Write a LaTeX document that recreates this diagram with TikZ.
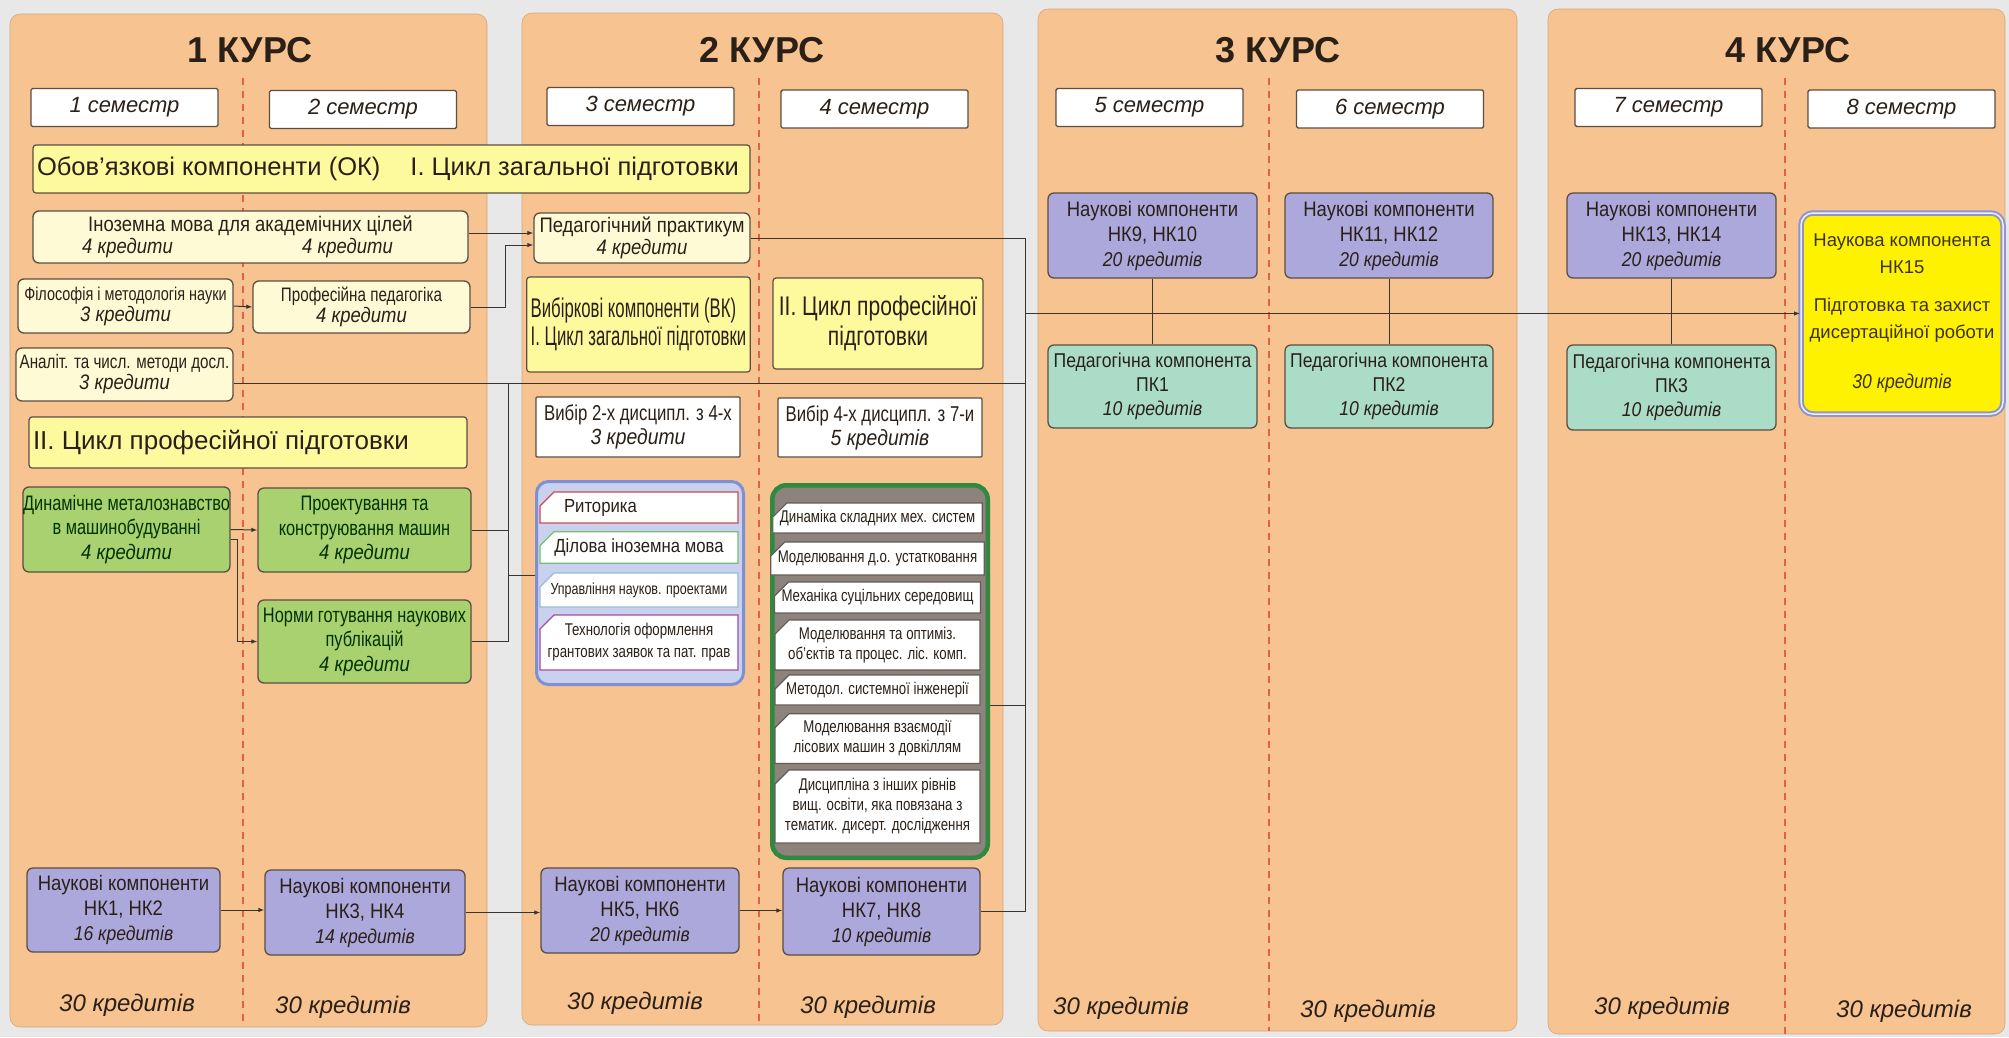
\documentclass[tikz,border=0pt]{standalone}
\usepackage{fontspec}
\setmainfont{Liberation Sans}
\newfontfamily\narrowfont[FakeStretch=0.88]{Liberation Sans}
\newfontfamily\tightfont[FakeStretch=0.78]{Liberation Sans}
\newfontfamily\vtightfont[FakeStretch=0.62]{Liberation Sans}
\usetikzlibrary{arrows.meta,shapes.misc}
\definecolor{bgc}{HTML}{E8E8E8}
\definecolor{panel}{HTML}{F6C391}
\definecolor{panelline}{HTML}{D6A77C}
\definecolor{edge}{HTML}{5C4E42}
\definecolor{ink}{HTML}{2A2018}
\definecolor{semline}{HTML}{E0604A}
\definecolor{banner}{HTML}{FDFA9E}
\definecolor{cream}{HTML}{FFFAD6}
\definecolor{leaf}{HTML}{A9D16F}
\definecolor{lilac}{HTML}{ACA8DB}
\definecolor{mint}{HTML}{AADCC8}
\definecolor{wirec}{HTML}{3A3531}
\definecolor{vkfill}{HTML}{C9D1EF}
\definecolor{vkline}{HTML}{7D90D4}
\definecolor{pfill}{HTML}{8E827C}
\definecolor{pline}{HTML}{2F8A3F}
\definecolor{hkline}{HTML}{8F94CC}
\newcommand\kr[2][21]{{\narrowfont\itshape\fontsize{#1}{#1}\selectfont #2}}
\tikzset{
  panelbox/.style={fill=panel,draw=panelline,line width=.6pt,rounded corners=10pt},
  semsep/.style={draw=semline,line width=1.2pt,dash pattern=on 7pt off 6pt},
  kurs/.style={text=ink,font=\bfseries\fontsize{36}{40}\selectfont},
  sem/.style={draw=edge,fill=white,line width=1.4pt,rounded corners=1.5pt,minimum width=187pt,minimum height=38pt,inner sep=0pt,text=ink,font=\itshape\fontsize{22}{24}\selectfont},
  cyc/.style={fill=banner,draw=edge,line width=1.2pt,rounded corners=3pt,inner ysep=0pt,inner xsep=4pt,align=left,text=ink,font=\fontsize{26}{30}\selectfont},
  okb/.style={fill=cream,draw=edge,line width=1.3pt,rounded corners=6pt,inner sep=0pt,align=center,text=ink,font=\narrowfont\fontsize{21}{22}\selectfont},
  okt/.style={okb,font=\tightfont\fontsize{19.5}{21}\selectfont},
  prof/.style={okb,fill=leaf,text=black!80!green,font=\tightfont\fontsize{21}{24.5}\selectfont},
  nk/.style={okb,fill=lilac,text=ink,font=\narrowfont\fontsize{21}{25}\selectfont},
  pk/.style={okb,fill=mint,font=\narrowfont\fontsize{20}{24}\selectfont},
  choice/.style={draw=edge,fill=white,line width=1.3pt,rounded corners=1pt,inner sep=0pt,align=center,text=ink,font=\tightfont\fontsize{21.5}{24}\selectfont},
  vkgroup/.style={fill=vkfill,draw=vkline,line width=3pt,rounded corners=12pt,inner sep=0pt},
  pgroup/.style={fill=pfill,draw=pline,line width=4.5pt,rounded corners=14pt,inner sep=0pt},
  optb/.style={chamfered rectangle,chamfered rectangle corners=north west,chamfered rectangle xsep=7pt,chamfered rectangle ysep=7pt,fill=white,line width=1.2pt,inner sep=0pt,minimum width=198pt,align=center,text=ink,font=\tightfont\fontsize{16}{18}\selectfont},
  optp/.style={optb,draw=pfill!70!black,minimum width=205pt,font=\tightfont\fontsize{17}{20}\selectfont},
  crtotal/.style={text=ink,font=\itshape\fontsize{24}{28}\selectfont},
  wire/.style={draw=wirec,line width=1pt},
  arr/.style={wire,-{Latex[length=6pt,width=4.5pt]}},
}
\begin{document}
\begin{tikzpicture}[x=1pt,y=-1pt]
  \fill[bgc] (0,0) rectangle (2009,1037);
  \useasboundingbox (0,0) rectangle (2009,1037);
  \draw[panelbox] (10,14) rectangle (487,1027);
  \draw[panelbox] (522,13) rectangle (1003,1025);
  \draw[panelbox] (1038,9) rectangle (1517,1031);
  \draw[panelbox] (1548,9) rectangle (2005,1034);
  \foreach \xx/\yy in {243/1025,759/1025,1269/1031,1785/1034}{\draw[semsep] (\xx,78) -- (\xx,\yy);}

  \node[kurs] (k1) at (250,50) {1 КУРС};
  \node[kurs] (k2) at (762,50) {2 КУРС};
  \node[kurs] (k3) at (1278,50) {3 КУРС};
  \node[kurs] (k4) at (1788,50) {4 КУРС};
  \foreach \nm/\xx/\yy/\lab in {s1/124.5/107.5/1,s2/363/109.5/2,s3/640.5/106.5/3,s4/874.5/109/4,s5/1149.5/107.5/5,s6/1390/109/6,s7/1668.5/107.5/7,s8/1901.5/109/8}
    \node[sem] (\nm) at (\xx,\yy) {\lab\ семестр};
  \foreach \nm/\xx/\yy in {t1/127/1005,t2/343/1007,t3/635/1003,t4/868/1007,t5/1121/1008,t6/1368/1011,t7/1662/1008,t8/1904/1011}
    \node[crtotal] (\nm) at (\xx,\yy) {30 кредитів};

  \node[cyc,minimum width=717pt,minimum height=48pt,font=\fontsize{25.5}{30}\selectfont] (okban) at (391.5,169) {\makebox[709pt][l]{Обов’язкові компоненти (ОК)\hspace{30pt}І. Цикл загальної підготовки}};
  \node[okb,minimum width=435pt,minimum height=52pt] (inozem) at (250.5,237) {Іноземна мова для академічних цілей\\\kr{\makebox[0pt]{4 кредити}\hspace{220pt}\makebox[0pt]{4 кредити}\hspace{26pt}\mbox{}}};
  \node[okt,minimum width=215pt,minimum height=54pt,font=\tightfont\fontsize{18.5}{21}\selectfont] (filos) at (125.5,306) {Філософія і методологія науки\\\kr{3 кредити}};
  \node[okt,minimum width=217pt,minimum height=52pt] (profped) at (361.5,307) {Професійна педагогіка\\\kr{4 кредити}};
  \node[okt,minimum width=217pt,minimum height=53pt] (analit) at (124.5,374.5) {Аналіт. та числ. методи досл.\\\kr{3 кредити}};
  \node[cyc,minimum width=438pt,minimum height=51pt] (cyc2) at (248,442.5) {\makebox[430pt][l]{II. Цикл професійної підготовки}};
  \node[prof,minimum width=207pt,minimum height=85pt] (dynmet) at (126.5,529.5) {Динамічне металознавство\\в машинобудуванні\\\kr{4 кредити}};
  \node[prof,minimum width=213pt,minimum height=84pt] (design) at (364.5,530) {Проектування та\\конструювання машин\\\kr{4 кредити}};
  \node[prof,minimum width=213pt,minimum height=83pt] (norms) at (364.5,641.5) {Норми готування наукових\\публікацій\\\kr{4 кредити}};
  \node[nk,minimum width=193pt,minimum height=84pt] (nk12) at (123.5,910) {Наукові компоненти\\НК1, НК2\\\kr[20]{16 кредитів}};
  \node[nk,minimum width=200pt,minimum height=85pt] (nk34) at (365,912.5) {Наукові компоненти\\НК3, НК4\\\kr[20]{14 кредитів}};

  \node[okb,minimum width=216pt,minimum height=50pt] (pedprac) at (642,238) {Педагогічний практикум\\\kr{4 кредити}};
  \node[cyc,minimum width=223pt,minimum height=95pt,font=\vtightfont\fontsize{27}{28}\selectfont] (vkban) at (638.5,324.5) {Вибіркові компоненти (ВК)\\І. Цикл загальної підготовки};
  \node[cyc,minimum width=210pt,minimum height=91pt,align=center,font=\tightfont\fontsize{27}{30}\selectfont] (cyc2b) at (878,323.5) {II. Цикл професійної\\підготовки};
  \node[choice,minimum width=204pt,minimum height=60pt] (choice2) at (638,427) {Вибір 2-х дисципл. з 4-х\\\kr[22]{3 кредити}};
  \node[choice,minimum width=204pt,minimum height=59pt] (choice4) at (880,427.5) {Вибір 4-х дисципл. з 7-и\\\kr[22]{5 кредитів}};
  \node[vkgroup,minimum width=207pt,minimum height=203pt] (elect1) at (640,583) {};
  \node[optb,draw=red!70!black!70,minimum height=31pt,text width=150pt,align=left,font=\narrowfont\fontsize{19}{21}\selectfont] (rhet) at (639,507.5) {Риторика};
  \node[optb,draw=green!55!black!55,minimum height=31pt,font=\narrowfont\fontsize{19}{21}\selectfont] (bizlang) at (639,547.5) {Ділова іноземна мова};
  \node[optb,draw=cyan!60!black!50,minimum height=34pt] (projmgmt) at (639,590) {Управління науков. проектами};
  \node[optb,draw=violet!70,minimum height=55pt,font=\tightfont\fontsize{17}{22}\selectfont] (granttech) at (639,642.5) {Технологія оформлення\\грантових заявок та пат. прав};
  \node[pgroup,minimum width=215.5pt,minimum height=372.5pt] (elect2) at (880,671.5) {};
  \node[optp,minimum height=30pt] (dynsys) at (877.5,518) {Динаміка складних мех. систем};
  \node[optp,minimum height=33pt] (modeq) at (877.5,558.5) {Моделювання д.о. устатковання};
  \node[optp,minimum height=31pt] (contmech) at (877.5,597.5) {Механіка суцільних середовищ};
  \node[optp,minimum height=46pt] (optim) at (877.5,645) {Моделювання та оптиміз.\\об’єктів та процес. ліс. комп.};
  \node[optp,minimum height=30pt] (syseng) at (877.5,690) {Методол. системної інженерії};
  \node[optp,minimum height=47pt] (envint) at (877.5,738.5) {Моделювання взаємодії\\лісових машин з довкіллям};
  \node[optp,minimum height=73pt] (otherlvl) at (877.5,806.5) {Дисципліна з інших рівнів\\вищ. освіти, яка повязана з\\тематик. дисерт. дослідження};
  \node[nk,minimum width=198pt,minimum height=85pt] (nk56) at (640,910.5) {Наукові компоненти\\НК5, НК6\\\kr[20]{20 кредитів}};
  \node[nk,minimum width=197pt,minimum height=87pt] (nk78) at (881.5,911.5) {Наукові компоненти\\НК7, НК8\\\kr[20]{10 кредитів}};

  \node[nk,minimum width=209pt,minimum height=85pt] (nk910) at (1152.5,235.5) {Наукові компоненти\\НК9, НК10\\\kr[20]{20 кредитів}};
  \node[nk,minimum width=208pt,minimum height=85pt] (nk1112) at (1389,235.5) {Наукові компоненти\\НК11, НК12\\\kr[20]{20 кредитів}};
  \node[pk,minimum width=209pt,minimum height=83pt] (pk1) at (1152.5,386.5) {Педагогічна компонента\\ПК1\\\kr[20]{10 кредитів}};
  \node[pk,minimum width=208pt,minimum height=83pt] (pk2) at (1389,386.5) {Педагогічна компонента\\ПК2\\\kr[20]{10 кредитів}};
  \node[nk,minimum width=209pt,minimum height=85pt] (nk1314) at (1671.5,235.5) {Наукові компоненти\\НК13, НК14\\\kr[20]{20 кредитів}};
  \node[pk,minimum width=209pt,minimum height=85pt] (pk3) at (1671.5,387.5) {Педагогічна компонента\\ПК3\\\kr[20]{10 кредитів}};
  \node[fill=yellow,draw=hkline,line width=2pt,double=white!85!hkline,double distance=1.5pt,rounded corners=12pt,minimum width=202pt,minimum height=201pt,align=center,text=ink!80!olive,font=\fontsize{18.5}{27}\selectfont] (nk15) at (1902,313.5) {Наукова компонента\\НК15\\[11pt]Підготовка та захист\\дисертаційної роботи\\[23pt]\kr[20]{30 кредитів}};

  \coordinate (busL) at (508,0);
  \coordinate (busR) at (1025,0);
  \coordinate (analitout) at ([yshift=-8.5pt]analit.east);
  \draw[arr] ([yshift=4pt]inozem.east) -- ([yshift=5pt]pedprac.west);
  \draw[arr] (profped.east) -- ++(35pt,0) |- ([yshift=-7pt]pedprac.west);
  \draw[arr] (filos.east) -- (profped.west);
  \draw[arr] (dynmet.east) -- (design.west);
  \draw[arr] ([yshift=-9.5pt]dynmet.east) -- ++(7pt,0) |- (norms.west);
  \draw[wire] (pedprac.east) -| (busR |- nk78.east) -- (nk78.east);
  \draw[wire] (analitout) -- (busR |- analitout);
  \draw[wire] (design.east) -| (busL |- analitout);
  \draw[wire] (norms.east) -| (busL |- analitout);
  \draw[wire] ([yshift=8pt]elect1.west) -- ++(-27pt,0);
  \draw[wire] ([yshift=-33.5pt]elect2.east) -- ++(35pt,0);
  \draw[arr] (busR |- nk15.west) -- (nk15.west);
  \draw[arr] (nk12.east) -- (nk12.east -| nk34.west);
  \draw[arr] (nk34.east) -- (nk34.east -| nk56.west);
  \draw[arr] (nk56.east) -- (nk56.east -| nk78.west);
  \draw[wire] (nk910.south) -- (pk1.north);
  \draw[wire] (nk1112.south) -- (pk2.north);
  \draw[wire] (nk1314.south) -- (pk3.north);
\end{tikzpicture}
\end{document}
